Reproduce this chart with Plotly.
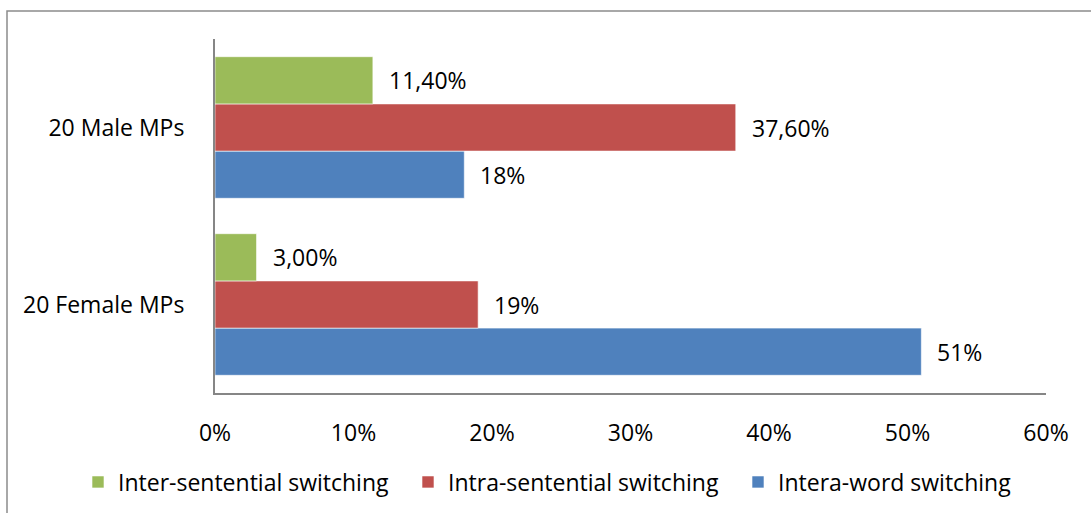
import plotly.graph_objects as go

# Groups and series
categories = ["20 Female MPs", "20 Male MPs"]
series_names = ["Inter-sentential switching", "Intra-sentential switching", "Intera-word switching"]
inter_sentential = [3.0, 11.4]
intra_sentential = [19.0, 37.6]
intera_word = [51.0, 18.0]
inter_labels = ["3,00%", "11,40%"]
intra_labels = ["19%", "37,60%"]
intera_labels = ["51%", "18%"]
x_ticks = [0, 10, 20, 30, 40, 50, 60]
x_tick_text = ["0%", "10%", "20%", "30%", "40%", "50%", "60%"]

colors = {"green": "#9BBB59", "red": "#C0504D", "blue": "#4F81BD"}
FONT = "Open Sans, Calibri, Carlito, sans-serif"
FS = 23

W, H = 1091, 513
ML, MR, MT, MB = 215, 45, 39, 120
plot_w = W - ML - MR
plot_h = H - MT - MB

fig = go.Figure()
# drawn bottom-to-top inside each group
series = [
    (series_names[2], intera_word, intera_labels, colors["blue"]),
    (series_names[1], intra_sentential, intra_labels, colors["red"]),
    (series_names[0], inter_sentential, inter_labels, colors["green"]),
]
for name, vals, _, col in series:
    fig.add_trace(go.Bar(
        y=categories, x=vals, name=name, orientation="h",
        marker=dict(color=col, line=dict(color="rgba(255,255,255,0.6)", width=1)),
        hoverinfo="skip",
    ))

# value labels beside each bar
band = plot_h / len(categories)
bargap = 0.2
bar_w = band * (1 - bargap) / len(series)
for k, (name, vals, labels, col) in enumerate(series):
    offset = (k - (len(series) - 1) / 2) * bar_w
    for cat, v, lab in zip(categories, vals, labels):
        fig.add_annotation(
            x=v, y=cat, text=lab, showarrow=False,
            xanchor="left", yanchor="middle", xshift=14, yshift=offset,
            font=dict(family=FONT, size=FS, color="#000000"),
        )

# outer chart frame (left and top edges visible)
fig.add_shape(
    type="rect", xref="paper", yref="paper",
    x0=(7 - ML) / plot_w, x1=(W + 20 - ML) / plot_w,
    y0=-(H + 20 - MT - plot_h) / plot_h, y1=(plot_h + MT - 11) / plot_h,
    line=dict(color="#8C8C8C", width=1.5), fillcolor="rgba(0,0,0,0)", layer="below",
)

fig.update_layout(
    width=W, height=H,
    margin=dict(l=ML, r=MR, t=MT, b=MB, autoexpand=False),
    paper_bgcolor="white", plot_bgcolor="white",
    barmode="group", bargap=bargap, bargroupgap=0,
    font=dict(family=FONT, size=FS, color="#000000"),
    showlegend=True,
    legend=dict(
        orientation="h", traceorder="reversed",
        x=(78 - ML) / plot_w, xanchor="left", xref="paper",
        y=(MT + plot_h - 482) / plot_h, yanchor="middle", yref="paper",
        font=dict(family=FONT, size=FS, color="#000000"),
        itemwidth=30, entrywidth=285, entrywidthmode="pixels",
        itemclick=False, itemdoubleclick=False,
        bgcolor="rgba(0,0,0,0)",
    ),
    xaxis=dict(
        range=[0, 60], tickvals=x_ticks, ticktext=x_tick_text,
        showgrid=False, zeroline=False, showline=True,
        linecolor="#868686", linewidth=2, ticks="",
        ticklabelstandoff=18,
        tickfont=dict(family=FONT, size=FS, color="#000000"),
    ),
    yaxis=dict(
        categoryorder="array", categoryarray=categories,
        showgrid=False, zeroline=False, showline=True,
        linecolor="#868686", linewidth=2, ticks="",
        ticklabelstandoff=24,
        tickfont=dict(family=FONT, size=FS, color="#000000"),
    ),
)

fig.write_html("out.html")
